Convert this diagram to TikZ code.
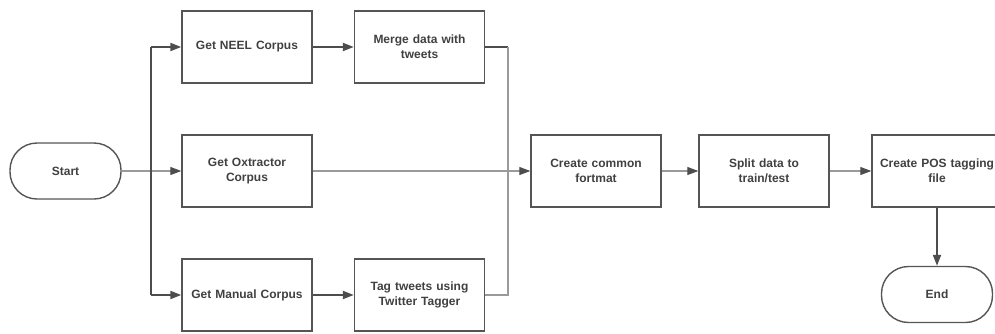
\documentclass[tikz,border=0pt]{standalone}
\usepackage{fontspec}
\setmainfont{Liberation Sans}
\usetikzlibrary{arrows.meta}
\definecolor{txt}{HTML}{404040}
\definecolor{bord}{HTML}{555555}
\definecolor{thinln}{HTML}{9A9A9A}
\definecolor{thickln}{HTML}{4D4D4D}
\tikzset{
  proc/.style={draw=bord, line width=1.4pt, minimum width=130pt, minimum height=72pt, inner sep=2pt,
    align=center, text width=126pt, font=\fontsize{12}{15}\selectfont\bfseries, text=txt},
  term/.style={draw=bord, line width=1.4pt, rounded corners=27pt, minimum width=111pt, minimum height=56pt,
    align=center, font=\fontsize{12}{15}\selectfont\bfseries, text=txt},
  thinarr/.style={draw=thinln, line width=1.1pt, -{Triangle[length=11pt,width=8pt,color=thickln]}},
  thickarr/.style={draw=thickln, line width=1.9pt, -{Triangle[length=11pt,width=8pt]}},
  thinl/.style={draw=thinln, line width=1.1pt},
  thickl/.style={draw=thickln, line width=1.9pt},
}
\begin{document}
\begin{tikzpicture}[x=1pt,y=-1pt]
\useasboundingbox (0,0) rectangle (995,333);
\begin{scope}
\clip (0,0) rectangle (995,333);
\node[term] (start) at (65.5,171) {Start};
\node[proc] (neel) at (247,47) {Get NEEL Corpus};
\node[proc] (merge) at (419.5,47) {Merge data with\\tweets};
\node[proc] (ox) at (247,171) {Get Oxtractor\\Corpus};
\node[proc] (man) at (247,295) {Get Manual Corpus};
\node[proc] (tag) at (419.5,295) {Tag tweets using\\Twitter Tagger};
\node[proc] (common) at (596,171) {Create common\\fortmat};
\node[proc] (split) at (764,171) {Split data to\\train/test};
\node[proc] (pos) at (937,171) {Create POS tagging\\file};
\node[term] (end) at (937,294.5) {End};

\coordinate (bt) at (151,47);
\coordinate (bb) at (151,295);
\coordinate (mt) at (508,47);
\coordinate (mb) at (508,295);

\draw[thinarr] (start.east) -- (ox.west);
\draw[thickl] (bt) -- (bb);
\draw[thickarr] (bt) -- (neel.west);
\draw[thickarr] (bb) -- (man.west);
\draw[thickarr] (neel.east) -- (merge.west);
\draw[thickarr] (man.east) -- (tag.west);
\draw[thickl] (merge.east) -- (mt);
\draw[thinl] (mt) -- (mb) -- (tag.east);
\draw[thinarr] (ox.east) -- (common.west);
\draw[thinarr] (common.east) -- (split.west);
\draw[thinarr] (split.east) -- (pos.west);
\draw[thickarr] (pos.south) -- (end.north);
\end{scope}
\end{tikzpicture}
\end{document}
